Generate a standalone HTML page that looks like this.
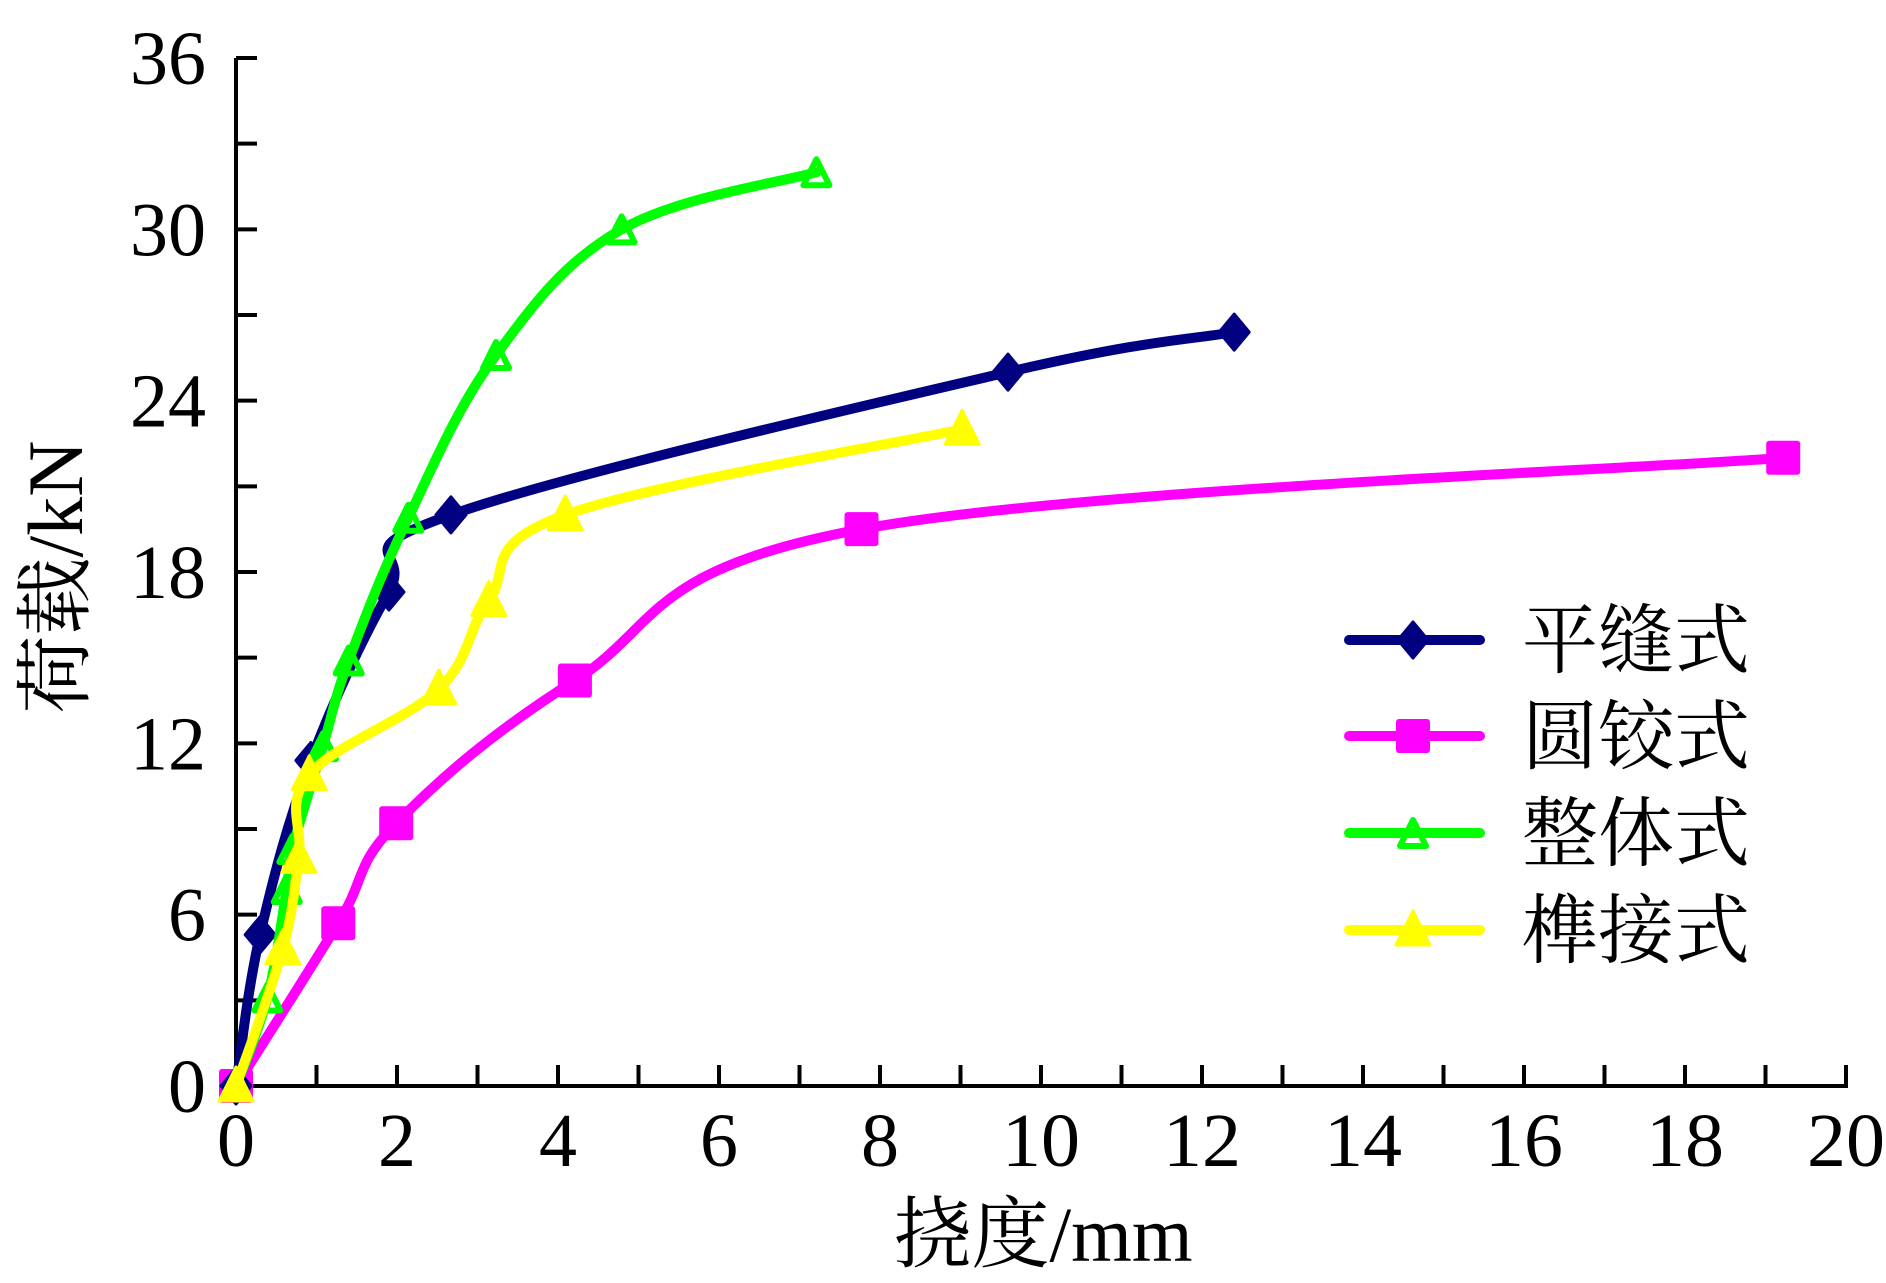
<!DOCTYPE html>
<html><head><meta charset="utf-8"><style>
body{margin:0;background:#fff}
svg{display:block}
.tk{font-family:"Liberation Serif","Noto Serif CJK SC",serif;font-size:76px;fill:#000}
.tt{font-family:"Liberation Serif","Noto Serif CJK SC",serif;font-size:78px;fill:#000}
.lg{font-family:"Liberation Serif","Noto Serif CJK SC",serif;font-size:76px;fill:#000}
</style></head><body>
<svg id="c" width="1886" height="1283" viewBox="0 0 1886 1283" xmlns="http://www.w3.org/2000/svg">
<g id="plot"></g>
</svg>
<script>
const xTicks=[0,2,4,6,8,10,12,14,16,18,20];
const yTicks=[0,6,12,18,24,30,36];
const seriesNames=["平缝式","圆铰式","整体式","榫接式"];
const seriesColors=["#000080","#ff00ff","#00ff00","#ffff00"];
const flatX=[0,0.3,0.93,1.9,2.67,9.59,12.4];
const flatY=[0,5.3,11.4,17.3,20.0,25.0,26.4];
const hingeX=[0,1.27,1.99,4.21,7.77,19.22];
const hingeY=[0,5.7,9.2,14.2,19.5,22.0];
const wholeX=[0,0.39,0.63,0.7,1.08,1.4,2.14,3.23,4.79,7.21];
const wholeY=[0,3.1,6.9,8.3,11.9,14.9,19.9,25.6,30.0,32.0];
const tenonX=[0,0.58,0.78,0.91,2.52,3.14,4.09,9.02];
const tenonY=[0,4.8,8.0,10.9,13.9,17.0,20.0,23.0];

const NS="http://www.w3.org/2000/svg";
const X0=236,X1=1846,Y0=1086,Y1=58;
function sx(v){return X0+(v-0)/(20-0)*(X1-X0);}
function sy(v){return Y0-(v-0)/(36-0)*(Y0-Y1);}
const g=document.getElementById('plot');
function mk(t,a,p){const e=document.createElementNS(NS,t);for(const k in a)e.setAttribute(k,a[k]);(p||g).appendChild(e);return e;}

let ax=mk('line',{x1:X0,y1:Y0,x2:X1+2,y2:Y0,stroke:'#000','stroke-width':4});


let ay=mk('line',{x1:X0,y1:Y0+2,x2:X0,y2:Y1,stroke:'#000','stroke-width':4});


for(let v=0;v<=20;v+=1){ if(v===0)continue;
  const t=mk('line',{x1:sx(v),y1:Y0,x2:sx(v),y2:Y0-21,stroke:'#000','stroke-width':4});
  
  
}
for(let v=3;v<=36;v+=3){
  const t=mk('line',{x1:X0,y1:sy(v),x2:X0+21,y2:sy(v),stroke:'#000','stroke-width':4});
  
  
}
xTicks.forEach(v=>{const t=mk('text',{x:sx(v),y:1166,'text-anchor':'middle',class:'tk',textLength:v>=10?78:38,lengthAdjust:'spacingAndGlyphs'});t.textContent=v;
  
  });
yTicks.forEach(v=>{const t=mk('text',{x:206,y:sy(v)+26,'text-anchor':'end',class:'tk',textLength:v>=10?76:38,lengthAdjust:'spacingAndGlyphs'});t.textContent=v;
  
  });
let xt=mk('text',{x:1043,y:1261,'text-anchor':'middle',class:'tt'});xt.textContent='挠度/mm';


let yt=mk('text',{x:0,y:0,'text-anchor':'middle',class:'tt',transform:'translate(82,577) rotate(-90)'});yt.textContent='荷载/kN';



function curve(pts){
  let d='M'+pts[0][0]+','+pts[0][1];
  for(let i=0;i<pts.length-1;i++){
    const p0=pts[Math.max(i-1,0)],p1=pts[i],p2=pts[i+1],p3=pts[Math.min(i+2,pts.length-1)];
    const t=0.18;
    const c1=[p1[0]+(p2[0]-p0[0])*t,p1[1]+(p2[1]-p0[1])*t];
    const c2=[p2[0]-(p3[0]-p1[0])*t,p2[1]-(p3[1]-p1[1])*t];
    d+=' C'+c1+' '+c2+' '+p2;
  }
  return d;
}
function marker(type,x,y,col,parent){
  let e;
  if(type===0) e=mk('polygon',{points:`${x},${y-18} ${x+15},${y} ${x},${y+18} ${x-15},${y}`,fill:col,stroke:col,'stroke-width':3,'stroke-linejoin':'round'},parent);
  else if(type===1) e=mk('rect',{x:x-17,y:y-17,width:34,height:34,rx:3,fill:col},parent);
  else if(type===2) e=mk('polygon',{points:`${x},${y-13} ${x+13},${y+13} ${x-13},${y+13}`,fill:'none',stroke:col,'stroke-width':6,'stroke-linejoin':'round'},parent);
  else e=mk('polygon',{points:`${x},${y-19} ${x+17},${y+15} ${x-17},${y+15}`,fill:col,stroke:col,'stroke-width':3,'stroke-linejoin':'round'},parent);
  return e;
}
const XS=[flatX,hingeX,wholeX,tenonX],YS=[flatY,hingeY,wholeY,tenonY];
const snames=['flat-joint','hinge-joint','integral','tenon-joint'];
const order=[1,0,2,3];
order.forEach(i=>{
  const sg=mk('g',{});
  
  
  const pts=XS[i].map((x,k)=>[sx(x),sy(YS[i][k])]);
  const p=mk('path',{d:curve(pts),fill:'none',stroke:seriesColors[i],'stroke-width':10,'stroke-linejoin':'round','stroke-linecap':'round'},sg);
  
  
  pts.forEach(q=>{const m=marker(i,q[0],q[1],seriesColors[i],sg);
    
    });
});
const lg=mk('g',{});


const ly=[640,736,833,930];
seriesNames.forEach((n,i)=>{
  const eg=mk('g',{},lg);
  
  
  mk('line',{x1:1349,y1:ly[i],x2:1480,y2:ly[i],stroke:seriesColors[i],'stroke-width':10,'stroke-linecap':'round'},eg);
  marker(i,1413,ly[i],seriesColors[i],eg);
  const t=mk('text',{x:1522,y:ly[i]+27,class:'lg'},eg);t.textContent=n;
});
</script>
</body></html>
